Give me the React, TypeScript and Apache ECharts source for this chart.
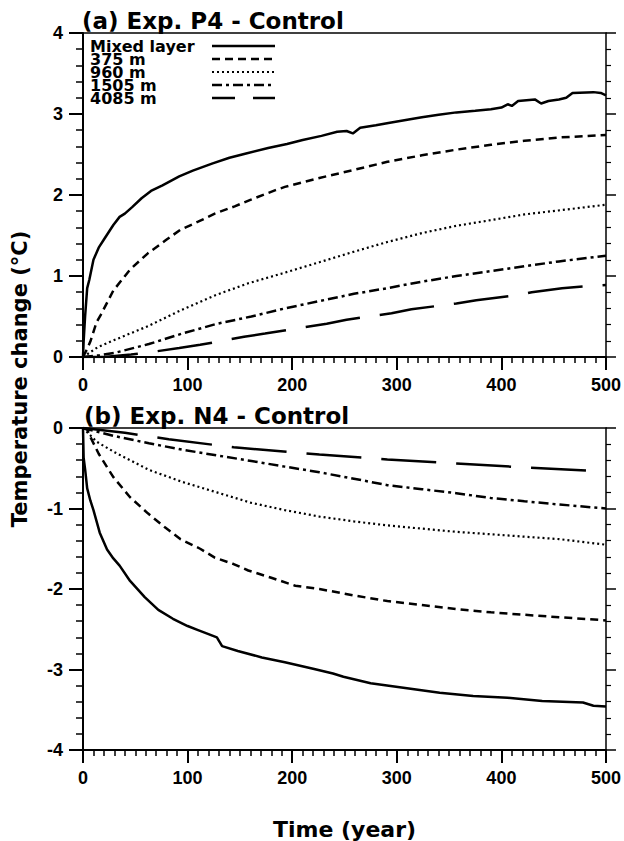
import React, { useEffect, useRef } from "react";
import * as echarts from "echarts";

// ---------- data (year, temperature change °C) ----------
const SERIES_NAMES = ["Mixed layer", "375 m", "960 m", "1505 m", "4085 m"];
const X_TICKS = [0, 100, 200, 300, 400, 500];
const TOP_TITLE = "(a) Exp. P4 - Control";
const BOTTOM_TITLE = "(b) Exp. N4 - Control";

const P4_MIXED = [[0,0],[0.6,0.19],[2,0.5],[4,0.85],[6,0.95],[10,1.2],[15,1.35],[20,1.45],[29,1.63],[35,1.73],[40,1.77],[47,1.85],[56,1.96],[65,2.05],[76,2.12],[92,2.23],[105,2.3],[124,2.39],[140,2.46],[155,2.51],[177,2.58],[195,2.63],[210,2.68],[228,2.73],[243,2.78],[252,2.79],[258,2.76],[265,2.83],[280,2.86],[292,2.89],[310,2.93],[324,2.96],[340,2.99],[357,3.02],[375,3.04],[390,3.06],[400,3.08],[406,3.12],[410,3.1],[416,3.16],[432,3.18],[438,3.13],[445,3.16],[455,3.18],[462,3.2],[468,3.26],[488,3.27],[495,3.26],[500,3.23]];
const P4_375 = [[0,0],[4,0.1],[7,0.19],[13,0.43],[17,0.52],[29,0.82],[45,1.08],[62,1.28],[79,1.44],[93,1.57],[110,1.67],[126,1.77],[145,1.86],[160,1.94],[184,2.06],[193,2.1],[226,2.21],[259,2.31],[291,2.41],[324,2.49],[357,2.56],[390,2.62],[422,2.67],[455,2.71],[500,2.74]];
const P4_960 = [[0,0],[14,0.12],[30,0.21],[62,0.38],[94,0.58],[126,0.76],[158,0.91],[190,1.03],[226,1.17],[259,1.3],[291,1.42],[324,1.53],[357,1.62],[390,1.69],[422,1.76],[455,1.81],[500,1.88]];
const P4_1505 = [[0,0],[15,0.02],[30,0.05],[63,0.16],[95,0.29],[128,0.41],[161,0.5],[193,0.6],[226,0.69],[259,0.78],[291,0.85],[324,0.93],[357,1.0],[390,1.06],[422,1.12],[455,1.18],[500,1.25]];
const P4_4085 = [[0,0],[20,0],[46,0.03],[70,0.07],[92,0.11],[112,0.15],[154,0.25],[174,0.29],[233,0.41],[252,0.46],[295,0.54],[314,0.59],[357,0.66],[376,0.7],[419,0.77],[429,0.8],[458,0.85],[478,0.87],[500,0.89]];

const N4_MIXED = [[0,0],[0.6,-0.37],[2,-0.51],[4,-0.75],[7,-0.9],[10,-1.02],[16,-1.3],[23,-1.51],[29,-1.62],[35,-1.71],[45,-1.9],[59,-2.1],[72,-2.26],[86,-2.37],[100,-2.46],[110,-2.51],[120,-2.56],[128,-2.6],[133,-2.71],[148,-2.77],[171,-2.85],[193,-2.91],[220,-2.99],[239,-3.05],[249,-3.09],[275,-3.17],[308,-3.23],[341,-3.29],[373,-3.33],[406,-3.35],[439,-3.39],[478,-3.41],[488,-3.45],[500,-3.46]];
const N4_375 = [[0,0],[4,-0.02],[7,-0.11],[15,-0.32],[29,-0.61],[45,-0.86],[62,-1.06],[78,-1.23],[93,-1.38],[112,-1.5],[126,-1.61],[144,-1.69],[158,-1.77],[180,-1.86],[203,-1.96],[226,-2.0],[259,-2.08],[291,-2.15],[324,-2.2],[357,-2.25],[390,-2.29],[422,-2.32],[455,-2.35],[500,-2.39]];
const N4_960 = [[0,0],[13,-0.17],[30,-0.3],[63,-0.52],[95,-0.67],[128,-0.8],[161,-0.93],[193,-1.02],[226,-1.1],[259,-1.16],[291,-1.21],[324,-1.25],[357,-1.29],[390,-1.32],[422,-1.35],[455,-1.38],[500,-1.45]];
const N4_1505 = [[0,0],[30,-0.1],[63,-0.19],[95,-0.27],[128,-0.34],[161,-0.41],[193,-0.48],[226,-0.55],[259,-0.63],[291,-0.71],[324,-0.76],[357,-0.81],[390,-0.87],[422,-0.91],[455,-0.95],[500,-1.0]];
const N4_4085 = [[0,0],[40,-0.06],[82,-0.14],[144,-0.24],[226,-0.33],[291,-0.39],[357,-0.44],[422,-0.49],[500,-0.54]];

const TOP_DATA = [P4_MIXED, P4_375, P4_960, P4_1505, P4_4085];
const BOTTOM_DATA = [N4_MIXED, N4_375, N4_960, N4_1505, N4_4085];

// ---------- styles ----------
const LINE_TYPES: any[] = ["solid", [8, 5], [2, 3], [10, 4, 3, 4], [55, 20]];
const LEGEND_TYPES: any[] = ["solid", [8, 5], [2, 3], [10, 4, 3, 4], [23, 18]];
const LINE_WIDTHS = [2.5, 2.5, 2.2, 2.5, 2.5];
const NARROW = "'Liberation Sans Narrow', 'Liberation Sans', sans-serif";
const WIDE = "'DejaVu Sans', sans-serif";

function axesFor(gridIndex: number, min: number, max: number, withName: boolean) {
  const labelStyle = { color: "#000", fontFamily: NARROW, fontWeight: "bold", fontSize: 18 };
  const xBottom: any = {
    type: "value", gridIndex, min: 0, max: 500, interval: 100, position: "bottom",
    axisLine: { onZero: false, lineStyle: { color: "#000", width: 2 } },
    axisTick: { show: true, inside: false, length: 13, lineStyle: { color: "#000", width: 2 } },
    minorTick: { show: true, splitNumber: 10, length: 6, lineStyle: { color: "#000", width: 1.5 } },
    splitLine: { show: false }, minorSplitLine: { show: false },
    axisLabel: { ...labelStyle, margin: 19, formatter: (v: number) => (X_TICKS.includes(v) ? String(v) : "") },
  };
  if (withName) {
    Object.assign(xBottom, {
      name: "Time (year)", nameLocation: "middle", nameGap: 68,
      nameTextStyle: { color: "#000", fontFamily: WIDE, fontWeight: "bold", fontSize: 22 },
    });
  }
  const xTop: any = {
    type: "value", gridIndex, min: 0, max: 500, position: "top",
    axisLine: { onZero: false, lineStyle: { color: "#000", width: 1.5 } },
    axisTick: { show: false }, axisLabel: { show: false }, splitLine: { show: false },
  };
  const yLeft: any = {
    type: "value", gridIndex, min, max, interval: 1, position: "left",
    axisLine: { onZero: false, lineStyle: { color: "#000", width: 2 } },
    axisTick: { show: true, inside: false, length: 14, lineStyle: { color: "#000", width: 2 } },
    minorTick: { show: true, splitNumber: 5, length: 7, lineStyle: { color: "#000", width: 1.5 } },
    splitLine: { show: false }, minorSplitLine: { show: false },
    axisLabel: { ...labelStyle, margin: 20 },
  };
  const yRight: any = {
    type: "value", gridIndex, min, max, interval: 1, position: "right",
    axisLine: { onZero: false, lineStyle: { color: "#000", width: 1.5 } },
    axisTick: { show: true, inside: false, length: 10, lineStyle: { color: "#000", width: 1.5 } },
    minorTick: { show: true, splitNumber: 5, length: 5, lineStyle: { color: "#000", width: 1.2 } },
    splitLine: { show: false }, axisLabel: { show: false },
  };
  return { x: [xBottom, xTop], y: [yLeft, yRight] };
}

export default function App() {
  const ref = useRef<HTMLDivElement>(null);
  useEffect(() => {
    if (!ref.current) return;
    const chart = echarts.init(ref.current, undefined, { renderer: "svg" });
    const a0 = axesFor(0, 0, 4, false);
    const a1 = axesFor(1, -4, 0, true);
    const xAxis = [...a0.x, ...a1.x];
    const yAxis = [...a0.y, ...a1.y];
    const mk = (data: number[][], i: number, panel: number) => ({
      type: "line", name: SERIES_NAMES[i], data,
      xAxisIndex: panel * 2, yAxisIndex: panel * 2,
      symbol: "none", showSymbol: false, smooth: false,
      lineStyle: { color: "#000", width: LINE_WIDTHS[i], type: LINE_TYPES[i] },
      itemStyle: { color: "#000" },
    });
    const series = [
      ...TOP_DATA.map((d, i) => mk(d, i, 0)),
      ...BOTTOM_DATA.map((d, i) => mk(d, i, 1)),
    ];
    chart.setOption({
      animation: false,
      backgroundColor: "#fff",
      grid: [
        { left: 83, width: 528, top: 33, height: 324, containLabel: false },
        { left: 83, width: 528, top: 428, height: 330, containLabel: false },
      ],
      xAxis, yAxis, series,
      title: [
        { text: TOP_TITLE, left: 82, top: 9, padding: 0, textStyle: { color: "#000", fontFamily: WIDE, fontWeight: "bold", fontSize: 23 } },
        { text: BOTTOM_TITLE, left: 84, top: 404, padding: 0, textStyle: { color: "#000", fontFamily: WIDE, fontWeight: "bold", fontSize: 23 } },
      ],
      legend: {
        show: true, orient: "vertical", left: 90, top: 38, align: "right",
        itemWidth: 63, itemHeight: 13, itemGap: -3, padding: 0, selectedMode: false,
        itemStyle: { opacity: 0 },
        formatter: (n: string) => "{t|" + n + "}",
        textStyle: {
          color: "#000", fontFamily: WIDE, fontWeight: "bold", fontSize: 16, lineHeight: 13,
          rich: { t: { width: 117, align: "left", color: "#000", fontFamily: WIDE, fontWeight: "bold", fontSize: 16, lineHeight: 13 } },
        },
        data: SERIES_NAMES.map((n, i) => ({
          name: n,
          itemStyle: { opacity: 0 },
          lineStyle: { color: "#000", width: LINE_WIDTHS[i], type: LEGEND_TYPES[i] },
        })),
      },
      graphic: [
        {
          type: "text", x: 20, y: 379, rotation: Math.PI / 2,
          style: { text: "Temperature change (°C)", fill: "#000", font: "bold 21px 'DejaVu Sans', sans-serif", align: "center", verticalAlign: "middle" },
        },
      ],
    });
    return () => chart.dispose();
  }, []);
  return <div ref={ref} style={{ position: "absolute", left: 0, top: 0, width: 624, height: 841 }} />;
}
